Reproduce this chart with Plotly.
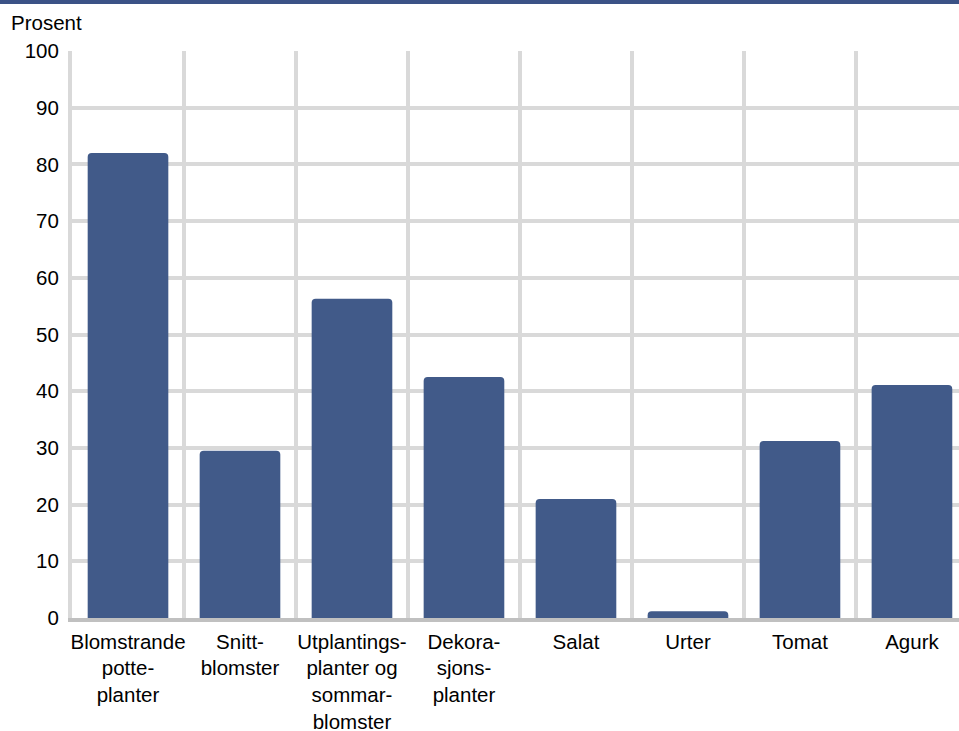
import plotly.graph_objects as go

categories = [
    "Blomstrande<br>potte-<br>planter",
    "Snitt-<br>blomster",
    "Utplantings-<br>planter og<br>sommar-<br>blomster",
    "Dekora-<br>sjons-<br>planter",
    "Salat",
    "Urter",
    "Tomat",
    "Agurk",
]
values = [82.0, 29.5, 56.3, 42.5, 21.0, 1.2, 31.2, 41.1]
y_ticks = [0, 10, 20, 30, 40, 50, 60, 70, 80, 90, 100]

BAR = "#415a89"
GRID = "#d9d9d9"
FONT = dict(family="Liberation Sans, Arial, sans-serif", size=20.5, color="#000000")

fig = go.Figure(
    go.Bar(x=categories, y=values, marker=dict(color=BAR, line=dict(width=0)))
)

fig.update_layout(
    width=959,
    height=731,
    margin=dict(l=72, r=0, t=51, b=113),
    paper_bgcolor="white",
    plot_bgcolor="white",
    bargap=0.28,
    barcornerradius=4,
    showlegend=False,
    font=FONT,
)

fig.update_xaxes(
    type="category",
    range=[-0.5, 7.42],
    tickson="boundaries",
    tickangle=0,
    automargin=False,
    showgrid=True,
    gridcolor=GRID,
    gridwidth=4,
    ticks="",
    ticklabelstandoff=2,
    showline=True,
    linecolor="#c0c0c0",
    linewidth=4,
    tickfont=FONT,
)
fig.update_yaxes(
    range=[0, 100],
    tickvals=y_ticks,
    automargin=False,
    showgrid=True,
    gridcolor=GRID,
    gridwidth=4,
    zeroline=False,
    showline=True,
    linecolor=GRID,
    linewidth=4,
    ticks="",
    ticklabelstandoff=5,
    tickfont=FONT,
)

fig.add_annotation(
    text="Prosent", xref="paper", yref="paper",
    x=-63 / 887, y=1 + 29 / 567, xanchor="left", yanchor="middle",
    showarrow=False, font=FONT,
)
fig.add_shape(
    type="rect", xref="paper", yref="paper",
    x0=-72 / 887, x1=1.0, y0=1 + 47 / 567, y1=1 + 51 / 567,
    fillcolor="#3b5286", line=dict(width=0),
)

fig.write_html(
    "out.html",
    config={"displayModeBar": False},
    post_script="document.body.style.margin='0';document.body.style.overflow='hidden';",
)
